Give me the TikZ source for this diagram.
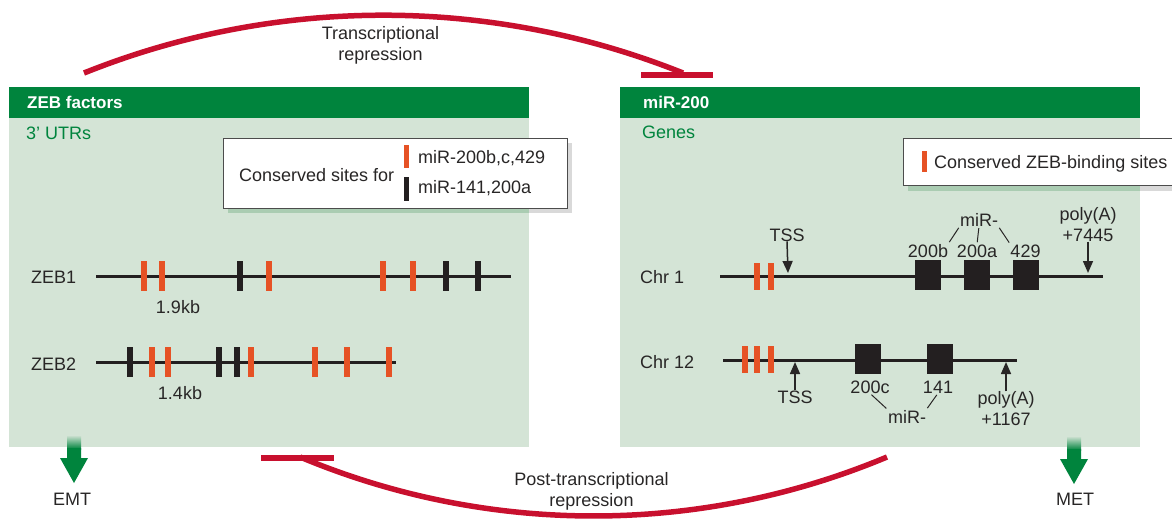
\documentclass[tikz,border=0pt]{standalone}
\usepackage{fontspec}
\setmainfont{Liberation Sans}
\usetikzlibrary{arrows.meta}

\definecolor{hdrgreen}{RGB}{0,132,61}
\definecolor{panelgreen}{RGB}{212,228,214}
\definecolor{shadegreen}{RGB}{170,204,178}
\definecolor{shadegray}{RGB}{217,217,217}
\definecolor{repred}{RGB}{200,16,46}
\definecolor{siteorange}{RGB}{230,82,37}
\definecolor{siteblack}{RGB}{35,31,32}
\definecolor{txtgray}{RGB}{40,38,38}

\tikzset{
  txt/.style={inner sep=0pt, anchor=base, text=txtgray, font=\fontsize{18}{20.5}\selectfont},
  panel/.style={rectangle, fill=panelgreen, inner sep=0pt, anchor=north west, minimum width=520pt, minimum height=360pt},
  header/.style={rectangle, fill=hdrgreen, inner sep=0pt, anchor=north west, minimum width=520pt, minimum height=31pt},
  hdrtxt/.style={txt, anchor=base west, text=white, font=\fontsize{17}{20}\selectfont\bfseries},
  subtxt/.style={txt, anchor=base west, text=hdrgreen},
  geneline/.style={line width=3pt, draw=siteblack},
  osite/.style={rectangle, fill=siteorange, minimum width=6pt, minimum height=30pt, inner sep=0pt},
  bsite/.style={osite, fill=siteblack},
  mirbox/.style={rectangle, fill=siteblack, minimum width=26pt, minimum height=30pt, inner sep=0pt},
  legendbox/.style={draw=black!70, line width=1pt, fill=white},
  repress/.style={draw=repred, line width=5.5pt},
  pointer/.style={line width=1.5pt, draw=txtgray, -{Triangle[width=10pt,length=12pt]}},
  tie/.style={line width=1pt, draw=txtgray, shorten <=2pt, shorten >=2pt},
}

\begin{document}
\begin{tikzpicture}[x=1pt, y=-1pt]
  \useasboundingbox (0,0) rectangle (1172,522);
  \clip (0,0) rectangle (1172,522);

  % Repression arcs
  \coordinate (trstart) at (84,73);
  \draw[repress] (trstart) arc[start angle=-111.85, end angle=-68.15, radius=804.8];
  \coordinate (trbarl) at (641,75);
  \coordinate (trbarr) at (713,75);
  \draw[repress] (trbarl) -- (trbarr);
  \node[txt, align=center, anchor=center] (trtext) at (380.5,45.4) {Transcriptional\\repression};

  \coordinate (ptstart) at (887,457);
  \draw[repress] (ptstart) arc[start angle=67.27, end angle=112.73, radius=759.5];
  \coordinate (ptbarl) at (261,458);
  \coordinate (ptbarr) at (334,458);
  \draw[repress] (ptbarl) -- (ptbarr);
  \node[txt, align=center, anchor=center] (pttext) at (591.5,491.4) {Post-transcriptional\\repression};

  % Panels
  \node[panel] (zebpanel) at (9,87) {};
  \node[header] (zebhead) at (9,87) {};
  \node[hdrtxt] (zebtitle) at (27,108) {ZEB factors};
  \node[subtxt] (zebsub) at (26,139) {3' UTRs};

  \node[panel] (mirpanel) at (620,87) {};
  \node[header] (mirhead) at (620,87) {};
  \node[hdrtxt] (mirtitle) at (643,108) {miR-200};
  \node[subtxt] (mirsub) at (642,138) {Genes};

  % Legends
  \fill[shadegreen] (228,143) rectangle (529,213);
  \fill[shadegray] (529,143) rectangle (572,213);
  \draw[legendbox] (223,138) rectangle (567,208);
  \node[txt, anchor=base west] (legfor) at (239,181) {Conserved sites for};
  \node[osite, minimum width=5pt, minimum height=23pt] (legor) at (406.5,156.5) {};
  \node[bsite, minimum width=5pt, minimum height=24pt] (legbk) at (406.5,189) {};
  \node[txt, anchor=base west] (legortxt) at (418,163) {miR-200b,c,429};
  \node[txt, anchor=base west] (legbktxt) at (418,193) {miR-141,200a};

  \fill[shadegreen] (908,143) rectangle (1140,191);
  \fill[shadegray] (1140,143) rectangle (1180,191);
  \draw[legendbox] (903,138) rectangle (1180,185);
  \node[osite, minimum width=5pt, minimum height=21pt] (legzeb) at (924.5,161.5) {};
  \node[txt, anchor=base west] (legzebtxt) at (934,168) {Conserved ZEB-binding sites};

  % ZEB 3' UTRs
  \node[txt, anchor=base west] (zeb1) at (31,283) {ZEB1};
  \coordinate (zeb1s) at (96,276);
  \coordinate (zeb1e) at (511,276);
  \draw[geneline] (zeb1s) -- (zeb1e);
  \node[osite] (z1a) at (144,276) {};
  \node[osite] (z1b) at (162,276) {};
  \node[bsite] (z1c) at (240,276) {};
  \node[osite] (z1d) at (269,276) {};
  \node[osite] (z1e) at (383,276) {};
  \node[osite] (z1f) at (413,276) {};
  \node[bsite] (z1g) at (446,276) {};
  \node[bsite] (z1h) at (478,276) {};
  \node[txt] (zeb1len) at (178,313) {1.9kb};

  \node[txt, anchor=base west] (zeb2) at (31,370) {ZEB2};
  \coordinate (zeb2s) at (96,362);
  \coordinate (zeb2e) at (396,362);
  \draw[geneline] (zeb2s) -- (zeb2e);
  \node[bsite] (z2a) at (130,362) {};
  \node[osite] (z2b) at (152,362) {};
  \node[osite] (z2c) at (168,362) {};
  \node[bsite] (z2d) at (219,362) {};
  \node[bsite] (z2e) at (237,362) {};
  \node[osite] (z2f) at (251,362) {};
  \node[osite] (z2g) at (315,362) {};
  \node[osite] (z2h) at (347,362) {};
  \node[osite] (z2i) at (389,362) {};
  \node[txt] (zeb2len) at (180,399) {1.4kb};

  % miR-200 genes, Chr 1
  \node[txt, anchor=base west] (chr1) at (640,283) {Chr 1};
  \coordinate (chr1s) at (720,276);
  \coordinate (chr1e) at (1103,276);
  \draw[geneline] (chr1s) -- (chr1e);
  \node[osite, minimum height=27pt] (c1a) at (757,276) {};
  \node[osite, minimum height=27pt] (c1b) at (771,276) {};
  \node[mirbox] (m200b) at (928,275) {};
  \node[mirbox] (m200a) at (977,275) {};
  \node[mirbox] (m429) at (1026,275) {};
  \node[txt] (l200b) at (928,257) {200b};
  \node[txt] (l200a) at (977,257) {200a};
  \node[txt] (l429) at (1025.5,257) {429};
  \node[txt] (mir1) at (979,226) {miR-};
  \draw[tie] (mir1.south west) -- (l200b.north east);
  \draw[tie] (mir1.south) -- (l200a.north);
  \draw[tie] (mir1.south east) -- (l429.north west);
  \node[txt] (tss1) at (787,241) {TSS};
  \coordinate (tss1tip) at (788,273);
  \draw[pointer] (tss1.south) -- (tss1tip);
  \node[txt, align=center, anchor=center] (polya1) at (1088,224.5) {poly(A)\\+7445};
  \coordinate (polya1tip) at (1088,273);
  \draw[pointer] (polya1.south) -- (polya1tip);

  % miR-200 genes, Chr 12
  \node[txt, anchor=base west] (chr12) at (640,368) {Chr 12};
  \coordinate (chr12s) at (723,360);
  \coordinate (chr12e) at (1017,360);
  \draw[geneline] (chr12s) -- (chr12e);
  \node[osite, minimum height=27pt] (c12a) at (745,359) {};
  \node[osite, minimum height=27pt] (c12b) at (757,359) {};
  \node[osite, minimum height=27pt] (c12c) at (771,359) {};
  \node[mirbox] (m200c) at (868,359) {};
  \node[mirbox] (m141) at (940,359) {};
  \node[txt] (l200c) at (870,393) {200c};
  \node[txt] (l141) at (938,393) {141};
  \node[txt] (mir2) at (907,423) {miR-};
  \draw[tie] (l200c.south) -- (mir2.north west);
  \draw[tie] (l141.south) -- (mir2.north east);
  \node[txt] (tss2) at (795,403) {TSS};
  \coordinate (tss2tip) at (795,362);
  \draw[pointer] (tss2.north) -- (tss2tip);
  \node[txt, align=center, anchor=center] (polya2) at (1006,408.5) {poly(A)\\+1167};
  \coordinate (polya2tip) at (1006,362);
  \draw[pointer] (polya2.north) -- (polya2tip);

  % Outcomes
  \shade[top color=panelgreen, bottom color=hdrgreen] (67,435) rectangle (81,449);
  \fill[hdrgreen] (67,448) -- (81,448) -- (81,458) -- (88,458) -- (74,483) -- (60,458) -- (67,458) -- cycle;
  \node[txt] (emt) at (72,505) {EMT};

  \shade[top color=panelgreen, bottom color=hdrgreen] (1067,436) rectangle (1081,450);
  \fill[hdrgreen] (1067,449) -- (1081,449) -- (1081,459) -- (1088,459) -- (1074,484) -- (1060,459) -- (1067,459) -- cycle;
  \node[txt] (met) at (1075,505) {MET};
\end{tikzpicture}
\end{document}
